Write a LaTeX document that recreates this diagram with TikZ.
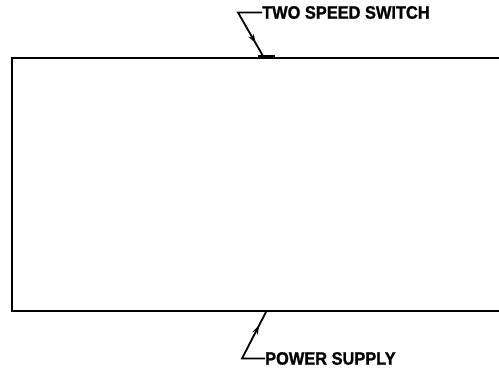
\documentclass[tikz,border=0pt]{standalone}
\usepackage{fontspec}
\setmainfont{Liberation Sans}
\newfontfamily\calloutfont[FakeStretch=0.91,FakeBold=1.2]{Liberation Sans Bold}
\usetikzlibrary{arrows.meta,decorations.markings}

\begin{document}
\begin{tikzpicture}[x=1pt,y=-1pt,
  callout/.style={font=\calloutfont\fontsize{18}{20}\selectfont,inner sep=0pt,anchor=west},
  leader/.style={line width=1.8pt,line join=miter,postaction={decorate},
    decoration={markings,mark=at position 0.8 with {\arrow{Stealth[length=9pt,width=6pt]}}}}
]
  \useasboundingbox (0,0) rectangle (499,368);
  % housing, open to the right
  \draw[line width=2.2pt] (499,58) -- (12,58) -- (12,311) -- (499,311);
  \fill (258,55) rectangle (275,58); % switch
  \coordinate (switch) at (263,56);
  \coordinate (supply) at (266,312);

  \node[callout] (sw) at (262,12.5) {TWO SPEED SWITCH};
  \node[callout] (ps) at (265,358.5) {POWER SUPPLY};

  \draw[leader] (sw.west) -- (238,12.5) -- (switch);
  \draw[leader] (ps.west) -- (242,358.5) -- (supply);
\end{tikzpicture}
\end{document}
